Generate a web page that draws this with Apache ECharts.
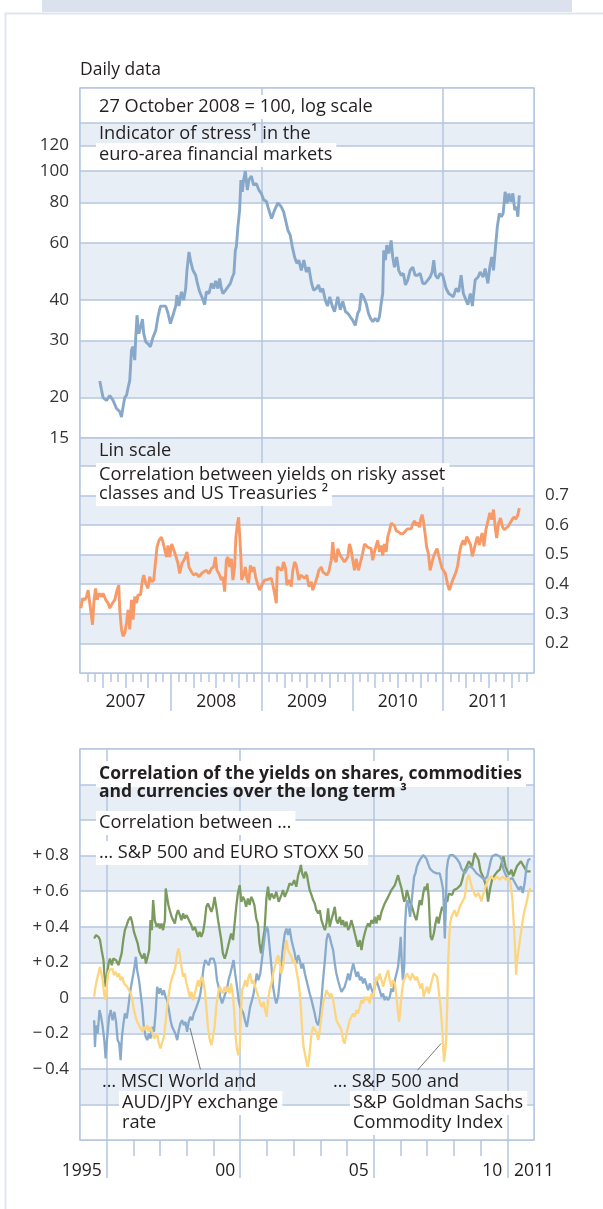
<!DOCTYPE html>
<html>
<head>
<meta charset="utf-8">
<title>Stress indicator and correlations</title>
<script src="https://cdn.jsdelivr.net/npm/echarts@6.0.0/dist/echarts.min.js"></script>
<style>
  html, body { margin: 0; padding: 0; background: #fff; }
  #chart { width: 603px; height: 1209px; }
</style>
</head>
<body>
<div id="chart"></div>
<script>
// ---- upper panel: stress indicator, 27 Oct 2008 = 100 (log scale) ----
const stressYears = [
  2007.218,2007.237,2007.254,2007.292,2007.328,2007.364,2007.402,2007.438,2007.457,2007.474,
  2007.493,2007.512,2007.529,2007.548,2007.567,2007.584,2007.603,2007.614,2007.628,2007.647,
  2007.666,2007.688,2007.702,2007.724,2007.749,2007.776,2007.804,2007.834,2007.859,2007.886,
  2007.914,2007.944,2007.969,2007.996,2008.024,2008.054,2008.068,2008.090,2008.117,2008.142,
  2008.164,2008.178,2008.200,2008.219,2008.244,2008.274,2008.293,2008.318,2008.348,2008.373,
  2008.392,2008.420,2008.447,2008.472,2008.494,2008.519,2008.538,2008.557,2008.574,2008.604,
  2008.629,2008.656,2008.678,2008.695,2008.711,2008.722,2008.739,2008.758,2008.772,2008.788,
  2008.802,2008.821,2008.843,2008.860,2008.887,2008.912,2008.942,2008.970,2008.997,2009.025,
  2009.052,2009.080,2009.110,2009.143,2009.179,2009.217,2009.242,2009.264,2009.289,2009.316,
  2009.338,2009.363,2009.388,2009.410,2009.437,2009.465,2009.492,2009.520,2009.547,2009.572,
  2009.602,2009.627,2009.649,2009.674,2009.701,2009.726,2009.751,2009.778,2009.803,2009.839,
  2009.866,2009.894,2009.924,2009.949,2009.976,2010.004,2010.031,2010.059,2010.078,2010.097,
  2010.122,2010.152,2010.177,2010.199,2010.224,2010.251,2010.279,2010.298,2010.317,2010.334,
  2010.345,2010.364,2010.378,2010.400,2010.427,2010.444,2010.463,2010.488,2010.510,2010.537,
  2010.562,2010.584,2010.609,2010.636,2010.665,2010.691,2010.719,2010.746,2010.775,2010.801,
  2010.830,2010.856,2010.878,2010.896,2010.914,2010.940,2010.966,2010.995,2011.013,2011.032,
  2011.061,2011.087,2011.112,2011.142,2011.171,2011.197,2011.222,2011.272,2011.299,2011.321,
  2011.352,2011.385,2011.407,2011.440,2011.462,2011.492,2011.513,2011.534,2011.554,2011.576,
  2011.596,2011.618,2011.640,2011.660,2011.682,2011.703,2011.724,2011.745,2011.767,2011.788,
  2011.809,2011.822,2011.838
];
const stressValues = [
  22.5,21.1,20.0,19.6,20.3,19.6,18.5,18.1,17.4,18.7,
  20.0,20.3,21.4,22.6,28.0,28.7,26.1,30.7,35.9,31.5,
  32.8,34.9,31.5,29.7,29.3,28.7,30.7,32.2,35.5,38.3,
  38.3,38.3,36.4,33.8,35.9,38.3,41.4,38.3,42.4,40.0,
  43.4,49.4,56.3,52.6,49.4,47.7,45.0,42.4,40.5,38.7,
  42.4,41.9,45.0,43.4,45.8,43.4,46.6,43.4,41.9,42.9,
  43.9,45.0,47.1,48.3,57.0,58.4,67.3,75.8,93.8,86.3,
  93.8,100,87.4,93.8,96.5,90.5,91.6,87.4,85.3,81.3,
  80.8,75.8,71.4,75.8,79.8,77.6,75.0,70.6,65.7,63.3,
  58.4,54.3,51.9,53.1,49.4,53.1,48.8,50.5,45.5,42.9,
  43.4,44.5,42.4,43.4,40.0,38.3,40.9,38.3,36.8,40.9,
  37.3,39.6,36.8,36.4,35.5,34.6,33.4,36.4,37.3,41.9,
  40.9,39.0,36.4,35.1,34.3,35.1,34.3,35.5,39.0,41.9,
  57.0,53.1,59.1,55.7,61.1,54.3,50.5,54.3,49.4,47.7,
  48.3,44.5,46.1,49.4,50.5,47.7,47.7,48.3,45.0,45.0,
  46.1,47.1,48.8,53.1,47.7,46.6,48.3,47.7,48.3,43.4,
  41.9,41.4,40.9,43.4,42.4,47.7,41.9,38.7,41.9,38.3,
  46.1,47.1,48.8,47.1,50.0,45.0,50.5,54.3,49.4,58.4,
  67.3,74.0,72.3,74.0,86.3,79.5,85.3,80.4,85.3,75.8,
  77.6,72.3,84.2
];
const stressTickLabels = [15, 20, 30, 40, 60, 80, 100, 120];
const stressGridLines = [15, 20, 30, 40, 60, 80, 100, 120, 140.7, 180.5];

// ---- middle panel: correlation risky assets / US Treasuries (lin scale) ----
const corrYears = [
  2007.009,2007.028,2007.053,2007.072,2007.089,2007.108,2007.122,2007.138,2007.152,2007.171,
  2007.188,2007.210,2007.237,2007.254,2007.284,2007.309,2007.328,2007.358,2007.383,2007.408,
  2007.427,2007.438,2007.457,2007.474,2007.493,2007.512,2007.529,2007.548,2007.567,2007.584,
  2007.603,2007.622,2007.639,2007.666,2007.688,2007.702,2007.724,2007.749,2007.768,2007.787,
  2007.812,2007.826,2007.848,2007.870,2007.897,2007.914,2007.936,2007.952,2007.969,2007.988,
  2008.010,2008.032,2008.054,2008.079,2008.098,2008.123,2008.153,2008.178,2008.200,2008.227,
  2008.252,2008.282,2008.310,2008.337,2008.362,2008.392,2008.420,2008.447,2008.472,2008.491,
  2008.508,2008.530,2008.557,2008.574,2008.593,2008.612,2008.629,2008.648,2008.667,2008.684,
  2008.703,2008.717,2008.733,2008.747,2008.766,2008.772,2008.780,2008.802,2008.821,2008.838,
  2008.857,2008.876,2008.893,2008.915,2008.934,2008.959,2008.978,2009.008,2009.033,2009.069,
  2009.107,2009.124,2009.143,2009.162,2009.173,2009.198,2009.223,2009.242,2009.264,2009.278,
  2009.300,2009.327,2009.344,2009.363,2009.382,2009.410,2009.432,2009.454,2009.476,2009.498,
  2009.520,2009.547,2009.564,2009.583,2009.608,2009.630,2009.657,2009.674,2009.693,2009.718,
  2009.740,2009.767,2009.784,2009.803,2009.822,2009.839,2009.858,2009.877,2009.894,2009.913,
  2009.932,2009.949,2009.968,2009.987,2010.004,2010.023,2010.042,2010.067,2010.086,2010.108,
  2010.133,2010.152,2010.169,2010.188,2010.207,2010.224,2010.243,2010.262,2010.279,2010.298,
  2010.317,2010.334,2010.353,2010.372,2010.389,2010.408,2010.427,2010.444,2010.463,2010.482,
  2010.510,2010.537,2010.562,2010.584,2010.606,2010.628,2010.647,2010.664,2010.686,2010.702,
  2010.719,2010.738,2010.752,2010.768,2010.782,2010.801,2010.818,2010.837,2010.856,2010.874,
  2010.892,2010.914,2010.933,2010.950,2010.969,2010.988,2011.006,2011.024,2011.050,2011.068,
  2011.087,2011.105,2011.123,2011.142,2011.160,2011.178,2011.197,2011.222,2011.238,2011.259,
  2011.279,2011.301,2011.321,2011.352,2011.376,2011.398,2011.428,2011.449,2011.470,2011.492,
  2011.513,2011.534,2011.554,2011.576,2011.589,2011.610,2011.632,2011.651,2011.673,2011.695,
  2011.715,2011.737,2011.758,2011.779,2011.800,2011.822,2011.838
];
const corrValues = [
  .319,.352,.347,.358,.380,.386,.302,.263,.336,.386,
  .347,.369,.358,.369,.347,.336,.319,.336,.347,.380,
  .397,.313,.247,.224,.235,.269,.313,.247,.347,.280,
  .358,.336,.364,.364,.414,.431,.403,.386,.425,.408,
  .414,.458,.525,.548,.559,.542,.542,.492,.531,.492,
  .536,.531,.497,.470,.436,.470,.486,.509,.458,.442,
  .431,.436,.425,.436,.442,.447,.436,.453,.458,.492,
  .447,.436,.414,.425,.375,.481,.492,.458,.486,.414,
  .458,.559,.603,.626,.620,.492,.414,.431,.458,.419,
  .403,.464,.442,.458,.425,.397,.380,.400,.414,.416,
  .420,.397,.369,.336,.458,.453,.447,.475,.453,.397,
  .414,.392,.447,.475,.464,.414,.431,.436,.420,.431,
  .392,.408,.380,.386,.420,.447,.458,.442,.436,.431,
  .442,.481,.542,.486,.475,.520,.503,.492,.497,.475,
  .470,.492,.536,.514,.481,.447,.486,.447,.442,.497,
  .536,.542,.525,.531,.520,.481,.509,.531,.548,.509,
  .531,.497,.536,.509,.559,.581,.606,.603,.598,.581,
  .576,.570,.572,.576,.587,.592,.587,.603,.614,.598,
  .609,.592,.620,.635,.614,.570,.525,.503,.447,.470,
  .492,.509,.520,.497,.492,.453,.447,.436,.397,.380,
  .397,.414,.420,.442,.464,.503,.531,.548,.533,.561,
  .567,.533,.494,.533,.561,.533,.573,.528,.584,.612,
  .641,.618,.652,.584,.556,.607,.624,.595,.584,.578,
  .595,.601,.618,.627,.620,.635,.657
];
const corrTickLabels = [0.2, 0.3, 0.4, 0.5, 0.6, 0.7];

// ---- lower panel: long-term correlations ----
const spxStoxxYears = [
  1994.53,1994.60,1994.69,1994.75,1994.81,1994.88,1994.91,1994.96,1995.02,1995.07,
  1995.12,1995.19,1995.25,1995.35,1995.44,1995.50,1995.56,1995.62,1995.68,1995.75,
  1995.81,1995.90,1995.96,1996.02,1996.08,1996.16,1996.22,1996.28,1996.34,1996.41,
  1996.47,1996.53,1996.59,1996.64,1996.69,1996.74,1996.80,1996.87,1996.94,1996.99,
  1997.05,1997.11,1997.18,1997.21,1997.26,1997.31,1997.36,1997.43,1997.49,1997.55,
  1997.61,1997.67,1997.74,1997.80,1997.86,1997.92,1997.99,1998.05,1998.11,1998.17,
  1998.23,1998.30,1998.36,1998.42,1998.48,1998.54,1998.61,1998.67,1998.73,1998.79,
  1998.86,1998.92,1998.98,1999.04,1999.10,1999.17,1999.23,1999.29,1999.35,1999.42,
  1999.48,1999.54,1999.60,1999.66,1999.73,1999.79,1999.85,1999.91,1999.98,2000.04,
  2000.10,2000.16,2000.22,2000.29,2000.35,2000.41,2000.47,2000.53,2000.60,2000.66,
  2000.72,2000.78,2000.85,2000.91,2000.98,2001.04,2001.10,2001.17,2001.27,2001.35,
  2001.44,2001.54,2001.60,2001.67,2001.77,2001.85,2001.94,2002.02,2002.10,2002.17,
  2002.23,2002.27,2002.32,2002.39,2002.44,2002.50,2002.54,2002.60,2002.67,2002.73,
  2002.79,2002.85,2002.92,2002.98,2003.04,2003.10,2003.17,2003.23,2003.29,2003.35,
  2003.41,2003.48,2003.54,2003.60,2003.66,2003.73,2003.79,2003.85,2003.91,2003.98,
  2004.04,2004.10,2004.16,2004.23,2004.29,2004.35,2004.41,2004.48,2004.54,2004.60,
  2004.66,2004.73,2004.79,2004.85,2004.91,2004.98,2005.04,2005.10,2005.16,2005.22,
  2005.29,2005.35,2005.41,2005.47,2005.54,2005.60,2005.66,2005.72,2005.79,2005.85,
  2005.91,2005.97,2006.04,2006.10,2006.14,2006.19,2006.24,2006.29,2006.35,2006.41,
  2006.47,2006.54,2006.60,2006.66,2006.72,2006.79,2006.85,2006.91,2006.97,2007.01,
  2007.06,2007.10,2007.13,2007.18,2007.25,2007.31,2007.37,2007.43,2007.50,2007.56,
  2007.62,2007.68,2007.75,2007.81,2007.87,2007.93,2008.00,2008.06,2008.12,2008.18,
  2008.25,2008.31,2008.37,2008.42,2008.56,2008.68,2008.78,2008.85,2008.92,2009.00,
  2009.11,2009.21,2009.28,2009.36,2009.43,2009.54,2009.64,2009.72,2009.79,2009.86,
  2009.93,2010.00,2010.07,2010.15,2010.22,2010.29,2010.36,2010.43,2010.51,2010.58,
  2010.65,2010.72,2010.79,2010.87
];
const spxStoxxValues = [
  .334,.353,.343,.325,.268,.212,.137,.062,.137,.193,
  .221,.184,.221,.212,.184,.184,.250,.325,.381,.409,
  .437,.456,.418,.371,.343,.306,.259,.240,.221,.250,
  .193,.184,.268,.437,.381,.550,.437,.400,.418,.390,
  .418,.381,.437,.615,.568,.522,.493,.456,.437,.418,
  .465,.493,.465,.437,.475,.446,.465,.446,.437,.409,
  .381,.400,.371,.343,.371,.343,.371,.428,.512,.531,
  .522,.484,.512,.568,.512,.437,.381,.325,.250,.221,
  .250,.287,.325,.362,.325,.418,.512,.587,.634,.540,
  .568,.550,.512,.559,.522,.568,.550,.522,.446,.418,
  .306,.250,.325,.381,.559,.625,.550,.587,.559,.597,
  .540,.578,.606,.568,.606,.644,.634,.662,.625,.690,
  .719,.747,.700,.672,.709,.690,.653,.606,.578,.550,
  .531,.493,.475,.493,.437,.409,.381,.418,.503,.400,
  .437,.475,.512,.437,.418,.456,.409,.437,.400,.428,
  .381,.400,.437,.400,.362,.325,.287,.325,.268,.325,
  .362,.400,.418,.400,.437,.418,.456,.418,.465,.437,
  .484,.475,.531,.540,.568,.578,.606,.615,.634,.662,
  .690,.653,.615,.568,.540,.559,.606,.578,.540,.522,
  .493,.456,.437,.493,.550,.522,.587,.625,.606,.644,
  .559,.418,.343,.325,.362,.418,.456,.418,.475,.512,
  .493,.559,.540,.587,.597,.578,.606,.597,.615,.606,
  .634,.662,.700,.721,.768,.740,.815,.824,.777,.712,
  .674,.627,.542,.618,.665,.693,.712,.721,.759,.796,
  .740,.712,.693,.721,.683,.712,.740,.731,.768,.777,
  .731,.712,.702,.712
];

const msciAudJpyYears = [
  1994.53,1994.56,1994.60,1994.66,1994.73,1994.79,1994.85,1994.91,1994.96,1995.02,
  1995.09,1995.15,1995.22,1995.29,1995.35,1995.41,1995.47,1995.52,1995.57,1995.62,
  1995.68,1995.75,1995.81,1995.87,1995.93,1996.00,1996.06,1996.09,1996.14,1996.21,
  1996.27,1996.33,1996.39,1996.46,1996.52,1996.58,1996.64,1996.70,1996.77,1996.83,
  1996.89,1996.95,1997.01,1997.08,1997.14,1997.20,1997.26,1997.33,1997.39,1997.45,
  1997.51,1997.57,1997.64,1997.70,1997.76,1997.82,1997.89,1997.95,1998.01,1998.07,
  1998.13,1998.20,1998.26,1998.32,1998.38,1998.45,1998.51,1998.57,1998.63,1998.69,
  1998.76,1998.82,1998.88,1998.94,1999.00,1999.07,1999.13,1999.19,1999.25,1999.32,
  1999.38,1999.44,1999.50,1999.56,1999.63,1999.69,1999.75,1999.81,1999.88,1999.94,
  2000.00,2000.06,2000.12,2000.19,2000.25,2000.31,2000.37,2000.44,2000.50,2000.56,
  2000.62,2000.68,2000.75,2000.81,2000.87,2000.93,2000.99,2001.04,2001.10,2001.17,
  2001.23,2001.29,2001.35,2001.42,2001.48,2001.54,2001.60,2001.67,2001.73,2001.79,
  2001.85,2001.92,2001.98,2002.04,2002.10,2002.17,2002.23,2002.29,2002.35,2002.42,
  2002.48,2002.54,2002.60,2002.67,2002.73,2002.79,2002.85,2002.92,2002.98,2003.04,
  2003.10,2003.17,2003.23,2003.29,2003.35,2003.41,2003.48,2003.54,2003.60,2003.66,
  2003.73,2003.79,2003.85,2003.91,2003.98,2004.04,2004.10,2004.16,2004.23,2004.29,
  2004.35,2004.41,2004.48,2004.54,2004.60,2004.66,2004.73,2004.79,2004.85,2004.91,
  2004.98,2005.04,2005.10,2005.16,2005.22,2005.29,2005.35,2005.41,2005.47,2005.54,
  2005.60,2005.66,2005.72,2005.79,2005.85,2005.91,2005.97,2006.01,2006.05,2006.09,
  2006.14,2006.17,2006.21,2006.26,2006.31,2006.36,2006.41,2006.46,2006.51,2006.56,
  2006.61,2006.66,2006.72,2006.79,2006.85,2006.91,2006.97,2007.03,2007.10,2007.16,
  2007.22,2007.28,2007.35,2007.41,2007.47,2007.53,2007.60,2007.63,2007.66,2007.70,
  2007.73,2007.78,2007.85,2007.91,2007.97,2008.03,2008.10,2008.16,2008.22,2008.28,
  2008.35,2008.41,2008.56,2008.70,2008.85,2009.00,2009.14,2009.25,2009.36,2009.43,
  2009.57,2009.72,2009.79,2009.86,2009.97,2010.07,2010.19,2010.29,2010.36,2010.43,
  2010.51,2010.58,2010.65,2010.72,2010.79,2010.87
];
const msciAudJpyValues = [
  -.126,-.276,-.154,-.201,-.069,-.107,-.163,-.238,-.341,-.219,
  -.107,-.069,-.126,-.079,-.135,-.238,-.257,-.351,-.219,-.154,
  -.088,-.116,-.051,.024,.081,.137,.193,.231,.156,.099,
  .024,-.051,-.163,-.219,-.238,-.201,-.229,-.163,-.191,-.088,
  .062,.024,.053,.015,.043,.006,-.013,-.069,-.126,-.163,
  -.182,-.201,-.238,-.182,-.144,-.126,-.154,-.135,-.191,-.135,
  -.107,-.126,-.088,-.069,-.060,-.013,.024,.099,.174,.212,
  .221,.184,.221,.212,.221,.184,.099,.062,.006,-.032,
  -.004,.024,.043,.099,.137,.174,.212,.137,.062,-.013,
  -.051,-.069,-.088,-.135,-.163,-.107,-.051,-.013,.024,.081,
  .137,.099,.137,.212,.287,.362,.400,.381,.287,.174,
  .062,.006,-.032,.006,.099,.193,.287,.362,.390,.353,
  .390,.325,.287,.250,.193,.240,.212,.165,.193,.137,
  .099,.062,.024,-.013,-.051,-.088,-.135,-.154,-.107,-.013,
  .099,.212,.325,.362,.343,.306,.268,.193,.137,.099,
  .062,.034,.024,.062,.099,.137,.099,.146,.193,.156,
  .118,.146,.099,.118,.081,.109,.071,.043,.081,.053,
  .024,.062,.099,.071,.043,.006,.024,-.013,.006,-.013,
  .006,.053,.034,.099,.137,.174,.268,.343,.193,.099,
  .174,.400,.512,.550,.512,.456,.531,.606,.681,.700,
  .737,.756,.775,.784,.803,.812,.784,.756,.728,.728,
  .709,.719,.700,.709,.700,.662,.606,.475,.334,.512,
  .719,.775,.803,.794,.803,.794,.784,.794,.756,.728,
  .719,.700,.740,.730,.700,.683,.665,.683,.759,.796,
  .806,.796,.777,.721,.683,.665,.674,.646,.627,.609,
  .627,.590,.646,.740,.777,.780
];

const spxGsciYears = [
  1994.53,1994.58,1994.63,1994.69,1994.75,1994.80,1994.85,1994.90,1994.95,1995.00,
  1995.05,1995.10,1995.15,1995.21,1995.27,1995.34,1995.40,1995.46,1995.52,1995.58,
  1995.65,1995.71,1995.77,1995.83,1995.90,1995.96,1996.02,1996.08,1996.14,1996.21,
  1996.27,1996.33,1996.39,1996.46,1996.52,1996.58,1996.64,1996.70,1996.77,1996.83,
  1996.89,1996.95,1997.01,1997.08,1997.14,1997.20,1997.26,1997.33,1997.39,1997.45,
  1997.51,1997.57,1997.64,1997.69,1997.74,1997.80,1997.86,1997.92,1997.99,1998.05,
  1998.11,1998.17,1998.23,1998.30,1998.36,1998.42,1998.48,1998.54,1998.61,1998.67,
  1998.73,1998.79,1998.86,1998.92,1998.98,1999.04,1999.10,1999.17,1999.23,1999.29,
  1999.35,1999.42,1999.48,1999.54,1999.60,1999.66,1999.73,1999.78,1999.83,1999.88,
  1999.93,1999.98,2000.02,2000.07,2000.12,2000.19,2000.25,2000.31,2000.37,2000.44,
  2000.50,2000.56,2000.62,2000.68,2000.75,2000.81,2000.87,2000.93,2000.99,2001.04,
  2001.10,2001.17,2001.23,2001.29,2001.35,2001.42,2001.48,2001.54,2001.60,2001.67,
  2001.73,2001.79,2001.85,2001.92,2001.98,2002.04,2002.10,2002.17,2002.23,2002.27,
  2002.32,2002.37,2002.42,2002.47,2002.52,2002.57,2002.62,2002.67,2002.73,2002.79,
  2002.85,2002.92,2002.98,2003.04,2003.10,2003.17,2003.23,2003.29,2003.35,2003.41,
  2003.48,2003.54,2003.60,2003.66,2003.73,2003.79,2003.85,2003.91,2003.98,2004.04,
  2004.10,2004.16,2004.23,2004.29,2004.35,2004.41,2004.48,2004.54,2004.60,2004.66,
  2004.73,2004.79,2004.85,2004.91,2004.98,2005.04,2005.10,2005.16,2005.22,2005.29,
  2005.35,2005.41,2005.47,2005.54,2005.60,2005.66,2005.72,2005.79,2005.85,2005.91,
  2005.95,2006.00,2006.06,2006.12,2006.19,2006.25,2006.31,2006.37,2006.44,2006.50,
  2006.56,2006.62,2006.69,2006.75,2006.81,2006.87,2006.94,2007.00,2007.06,2007.12,
  2007.18,2007.25,2007.31,2007.37,2007.43,2007.50,2007.56,2007.60,2007.63,2007.67,
  2007.71,2007.75,2007.78,2007.82,2007.86,2007.91,2007.97,2008.03,2008.10,2008.16,
  2008.22,2008.28,2008.35,2008.41,2008.49,2008.56,2008.63,2008.70,2008.82,2008.92,
  2009.03,2009.11,2009.21,2009.28,2009.40,2009.50,2009.61,2009.72,2009.83,2009.93,
  2010.04,2010.12,2010.19,2010.25,2010.30,2010.33,2010.37,2010.51,2010.58,2010.65,
  2010.72,2010.79,2010.87
];
const spxGsciValues = [
  .006,.062,.099,.137,.174,.184,.099,.024,-.013,.062,
  .137,.156,.146,.165,.128,.146,.118,.137,.099,.118,
  .081,.090,.062,.043,.024,-.013,-.069,-.107,-.135,-.154,
  -.163,-.191,-.163,-.182,-.154,-.191,-.163,-.191,-.229,-.238,
  -.201,-.257,-.285,-.276,-.219,-.144,-.051,.024,.081,.118,
  .137,.174,.250,.278,.240,.174,.118,.137,.081,.043,
  .006,.034,-.013,.024,.062,.099,.062,.118,.099,.043,
  -.051,-.163,-.238,-.266,-.219,-.163,-.051,.024,.062,.043,
  .024,.062,.034,.062,.024,.081,.006,-.088,-.219,-.295,
  -.323,-.276,-.126,.043,.062,.099,.062,.118,.137,.081,
  .099,.062,.034,.006,-.032,-.051,-.023,-.069,-.107,-.013,
  .043,.081,.137,.174,.212,.240,.193,.137,.174,.268,
  .325,.268,.250,.231,.193,.212,.156,.099,.024,-.051,
  -.182,-.276,-.313,-.351,-.388,-.351,-.276,-.201,-.163,-.154,
  -.191,-.238,-.182,-.107,-.032,.006,.043,.024,.006,.024,
  -.013,-.069,-.126,-.144,-.163,-.182,-.238,-.257,-.201,-.163,
  -.126,-.135,-.088,-.107,-.069,-.088,-.051,-.013,-.032,.006,
  -.013,.006,-.032,.024,.006,.062,.118,.099,.137,.099,
  .062,.099,.128,.156,.099,.062,.099,.081,.006,-.088,
  -.135,-.051,.043,.099,.118,.137,.118,.099,.137,.118,
  .099,.118,.081,.053,.081,.006,.043,.062,.024,.062,
  .099,.137,.128,.118,.043,-.051,-.163,-.276,-.360,-.313,
  -.238,-.051,.174,.325,.418,.456,.475,.493,.456,.484,
  .512,.531,.550,.568,.665,.693,.646,.608,.570,.590,
  .542,.590,.636,.665,.683,.665,.683,.665,.683,.665,
  .674,.646,.552,.401,.251,.130,.213,.364,.439,.495,
  .533,.590,.618
];
const longTickLabels = [-0.4, -0.2, 0, 0.2, 0.4, 0.6, 0.8];
const longYearLabels = [1995, 2000, 2005, 2010];

// ---- styling ----
const FONT = "'Open Sans', sans-serif";
const GRID_LINE = '#b4c6e0';
const BAND = '#e8eef6';
const INK = '#231f20';
const lineStyle = { color: GRID_LINE, width: 1.5 };
const labelFont = { fontFamily: FONT, fontSize: 17, color: '#333' };
const NOTE_SIZE = 18.2;

function pairs(xs, ys) { return xs.map((x, i) => [x, ys[i]]); }

// tick positions below the upper panels
const monthTicks = [], quarterTicks = [];
for (let y = 2007; y < 2012; y++) {
  for (let m = 1; m < 12; m++) (m % 3 === 0 ? quarterTicks : monthTicks).push(y + m / 12);
}
const yearSeparators = [2008, 2009, 2010, 2011];
const yearLabelPos = [2007.5, 2008.5, 2009.5, 2010.5, 2011.5];
const longYearTicks = [];
for (let y = 1995; y <= 2010; y++) longYearTicks.push(y);

function xAxis(gridIndex, min, max, extra) {
  const base = {
    type: 'value', gridIndex, min, max, position: 'bottom', z: 1,
    axisLine: { show: false, onZero: false },
    axisTick: { show: false },
    axisLabel: { show: false },
    splitLine: { show: false }
  };
  return Object.assign(base, extra);
}

const chart = echarts.init(document.getElementById('chart'), null, { renderer: 'canvas', width: 603, height: 1209 });

const gridBox = { show: true, borderColor: GRID_LINE, borderWidth: 1.5, left: 80, width: 454 };

// a note line; with pad given, a white knock-out box is drawn underneath
// (all boxes sit below all note texts, so boxes never clip a neighbouring line)
function note(str, x, y, extra, pad) {
  const style = Object.assign({ text: str, fontFamily: FONT, fontSize: NOTE_SIZE, fill: INK,
    verticalAlign: 'middle', align: 'left', padding: pad || 0 }, extra || {});
  const out = [{ type: 'text', x, y, z: 1, z2: 200, silent: true, style }];
  if (pad) {
    out.unshift({ type: 'text', x, y, z: 1, z2: 100, silent: true,
      style: Object.assign({}, style, { fill: 'rgba(0,0,0,0)', backgroundColor: '#fff' }) });
  }
  return out;
}
const PAD = [3, 4, 3, 3];

chart.setOption({
  animation: false,
  backgroundColor: '#fff',
  grid: [
    Object.assign({ top: 88, height: 350 }, gridBox),
    Object.assign({ top: 438, height: 235 }, gridBox),
    Object.assign({ top: 749, height: 391 }, gridBox)
  ],
  xAxis: [
    // upper frame: vertical lines at 2009 and 2011
    xAxis(0, 2007, 2012, { axisTick: { show: false, customValues: [2007, 2009, 2011, 2012] }, splitLine: { show: true, lineStyle } }),
    xAxis(1, 2007, 2012, { axisTick: { show: false, customValues: [2007, 2009, 2011, 2012] }, splitLine: { show: true, lineStyle } }),
    xAxis(1, 2007, 2012, { axisTick: { show: true, customValues: monthTicks, length: 9, lineStyle } }),
    xAxis(1, 2007, 2012, { axisTick: { show: true, customValues: quarterTicks, length: 15, lineStyle } }),
    xAxis(1, 2007, 2012, {
      axisTick: { show: true, customValues: yearSeparators, length: 38, lineStyle },
      axisLabel: { show: true, customValues: yearLabelPos, margin: 20, fontSize: 17.5, fontFamily: FONT, color: INK,
        formatter: v => String(Math.floor(v)) }
    }),
    // lower frame
    xAxis(2, 1994, 2011, { axisTick: { show: true, customValues: longYearTicks, length: 16, lineStyle } }),
    xAxis(2, 1994, 2011, {
      axisTick: { show: true, customValues: longYearLabels, length: 38, lineStyle },
      splitLine: { show: true, lineStyle },
      axisLabel: { show: true, customValues: longYearLabels, margin: 22, align: 'right', padding: [0, 5, 0, 0],
        fontFamily: FONT, fontSize: 17.5, color: INK,
        formatter: v => v === 1995 ? '1995' : String(v).slice(2) }
    }),
    xAxis(2, 1994, 2011, {
      axisLabel: { show: true, customValues: [2011], margin: 22, fontFamily: FONT, fontSize: 17.5, color: INK,
        formatter: v => String(v) }
    }),
    xAxis(2, 1994, 2011, { axisTick: { show: false, customValues: [1994, 2011] }, splitLine: { show: true, lineStyle } })
  ],
  yAxis: [
    { type: 'log', logBase: 10, gridIndex: 0, min: 15, max: 180.5, show: false },
    {
      type: 'value', gridIndex: 0, position: 'left', z: 0,
      min: Math.log10(15), max: Math.log10(180.5),
      axisLine: { show: false }, axisTick: { show: false, customValues: stressGridLines.map(v => Math.log10(v)) },
      splitLine: { show: true, lineStyle },
      splitArea: { show: true, areaStyle: { color: ['#ffffff', BAND] } },
      axisLabel: Object.assign({ customValues: stressTickLabels.map(v => Math.log10(v)), margin: 11,
        formatter: v => String(Math.round(Math.pow(10, v))) }, labelFont)
    },
    {
      type: 'value', gridIndex: 1, position: 'right', z: 0,
      min: 0.1, max: 0.894, interval: 0.1,
      axisLine: { show: false }, axisTick: { show: false },
      splitLine: { show: true, lineStyle },
      splitArea: { show: true, areaStyle: { color: ['#ffffff', BAND] } },
      axisLabel: Object.assign({ customValues: corrTickLabels, margin: 11, formatter: v => v.toFixed(1) }, labelFont)
    },
    {
      type: 'value', gridIndex: 2, position: 'left', z: 0,
      min: -0.8, max: 1.4, interval: 0.2,
      axisLine: { show: false, onZero: false }, axisTick: { show: false },
      splitLine: { show: true, lineStyle },
      splitArea: { show: true, areaStyle: { color: ['#ffffff', BAND] } },
      axisLabel: Object.assign({ customValues: longTickLabels, margin: 11,
        formatter: v => v === 0 ? '0' : (v > 0 ? '+\u2009' : '\u2212\u2009') + Math.abs(v).toFixed(1) }, labelFont)
    }
  ],
  series: [
    {
      name: 'Indicator of stress', type: 'line', xAxisIndex: 0, yAxisIndex: 0, z: 3,
      data: pairs(stressYears, stressValues), showSymbol: false, lineStyle: { color: '#87a8c9', width: 2.9 }
    },
    {
      name: 'Correlation risky assets / US Treasuries', type: 'line', xAxisIndex: 1, yAxisIndex: 2, z: 3,
      data: pairs(corrYears, corrValues), showSymbol: false, lineStyle: { color: '#f79a68', width: 2.9 }
    },
    {
      name: 'S&P 500 and EURO STOXX 50', type: 'line', xAxisIndex: 5, yAxisIndex: 3, z: 3,
      data: pairs(spxStoxxYears, spxStoxxValues), showSymbol: false, lineStyle: { color: '#7b9a5f', width: 2.3 }
    },
    {
      name: 'MSCI World and AUD/JPY', type: 'line', xAxisIndex: 5, yAxisIndex: 3, z: 3,
      data: pairs(msciAudJpyYears, msciAudJpyValues), showSymbol: false, lineStyle: { color: '#88aacb', width: 2.3 },
      markLine: {
        silent: true, symbol: ['none', 'none'], label: { show: false },
        lineStyle: { color: '#555', width: 0.8, type: 'solid' },
        data: [[{ coord: [1998.12, -0.17] }, { coord: [1998.51, -0.403] }]]
      }
    },
    {
      name: 'S&P 500 and S&P GSCI', type: 'line', xAxisIndex: 5, yAxisIndex: 3, z: 3,
      data: pairs(spxGsciYears, spxGsciValues), showSymbol: false, lineStyle: { color: '#fdd57e', width: 2.3 },
      markLine: {
        silent: true, symbol: ['none', 'none'], label: { show: false },
        lineStyle: { color: '#555', width: 0.8, type: 'solid' },
        data: [[{ coord: [2007.52, -0.257] }, { coord: [2006.64, -0.407] }]]
      }
    }
  ],
  graphic: [
    { type: 'rect', z: 1, shape: { x: 42, y: 0, width: 530, height: 12 }, style: { fill: '#dbe2ee' } },
    { type: 'polyline', z: 1, shape: { points: [[5.5, 1209], [5.5, 13.5], [603, 13.5]] }, style: { stroke: '#dfe5ef', lineWidth: 2, fill: null } }
  ].concat(
    note('Daily data', 80, 70, { fontSize: 17.5 }),
    note('27 October 2008 = 100, log scale', 96, 107, null, PAD),
    note('Indicator of stress\u00b9 in the', 99, 134),
    note('euro-area financial markets', 96, 155, null, PAD),
    note('Lin scale', 99, 451),
    note('Correlation between yields on risky asset', 96, 475, null, PAD),
    note('classes and US Treasuries \u00b2', 96, 494, null, PAD),

    note('Correlation of the yields on shares, commodities', 96, 774, { fontWeight: 'bold', fontSize: 17.5 }, [3, 4, 5, 3]),
    note('and currencies over the long term \u00b3', 99, 792, { fontWeight: 'bold', fontSize: 17.5 }),
    note('Correlation between \u2026', 96, 823, null, PAD),
    note('\u2026 S&P 500 and EURO STOXX 50', 96, 853, null, PAD),

    note('\u2026 MSCI World and', 102, 1082),
    note('AUD/JPY exchange', 119, 1103, null, PAD),
    note('rate', 119, 1123, null, PAD),
    note('\u2026 S&P 500 and', 333, 1082),
    note('S&P Goldman Sachs', 350, 1103, null, PAD),
    note('Commodity Index', 350, 1123, null, PAD)
  )
});
</script>
</body>
</html>
